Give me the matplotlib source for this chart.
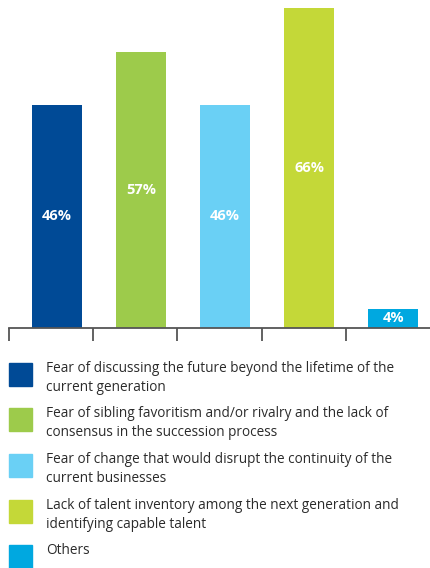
import matplotlib
matplotlib.use('Agg')
import matplotlib.pyplot as plt
from matplotlib.patches import Rectangle

# 数据
categories = [
    'Fear of discussing the future beyond the lifetime of the\ncurrent generation',
    'Fear of sibling favoritism and/or rivalry and the lack of\nconsensus in the succession process',
    'Fear of change that would disrupt the continuity of the\ncurrent businesses',
    'Lack of talent inventory among the next generation and\nidentifying capable talent',
    'Others',
]
values = [46, 57, 46, 66, 4]
colors = ['#004A96', '#9DCB4B', '#6AD0F5', '#C4D838', '#00A8E0']

plt.rcParams['font.family'] = ['Open Sans', 'DejaVu Sans']

W, H = 430, 568
fig = plt.figure(figsize=(W / 100, H / 100), dpi=100)

# 柱状图区域
ax = fig.add_axes([9 / W, (H - 328) / H, 421 / W, 320 / H])
x = list(range(len(values)))
ax.bar([i + 0.065 for i in x], values, width=0.594, color=colors)
for i, v in enumerate(values):
    ax.text(i + 0.065, v / 2, f'{v}%', ha='center', va='center',
            color='white', fontsize=10.5, fontweight='bold')

ax.set_xlim(-0.5, 4.5)
ax.set_ylim(0, 66)
ax.set_yticks([])
ax.set_xticks([i - 0.5 for i in x])
ax.set_xticklabels([])
ax.tick_params(axis='x', direction='out', length=9.5, width=1.3, color='#555555')
for s in ['top', 'right', 'left']:
    ax.spines[s].set_visible(False)
ax.spines['bottom'].set_color('#555555')
ax.spines['bottom'].set_linewidth(1.3)

# 图例
legend_tops = [363, 408, 454, 500, 545]
for top, c, label in zip(legend_tops, colors, categories):
    fig.add_artist(Rectangle((9 / W, (H - top - 23) / H), 23 / W, 23 / H,
                             transform=fig.transFigure, color=c))
    fig.text(46 / W, (H - top + 2) / H, label, ha='left', va='top',
             fontsize=9.8, color='#2b2b2b', linespacing=1.38)

plt.savefig('out.png', dpi=100)
